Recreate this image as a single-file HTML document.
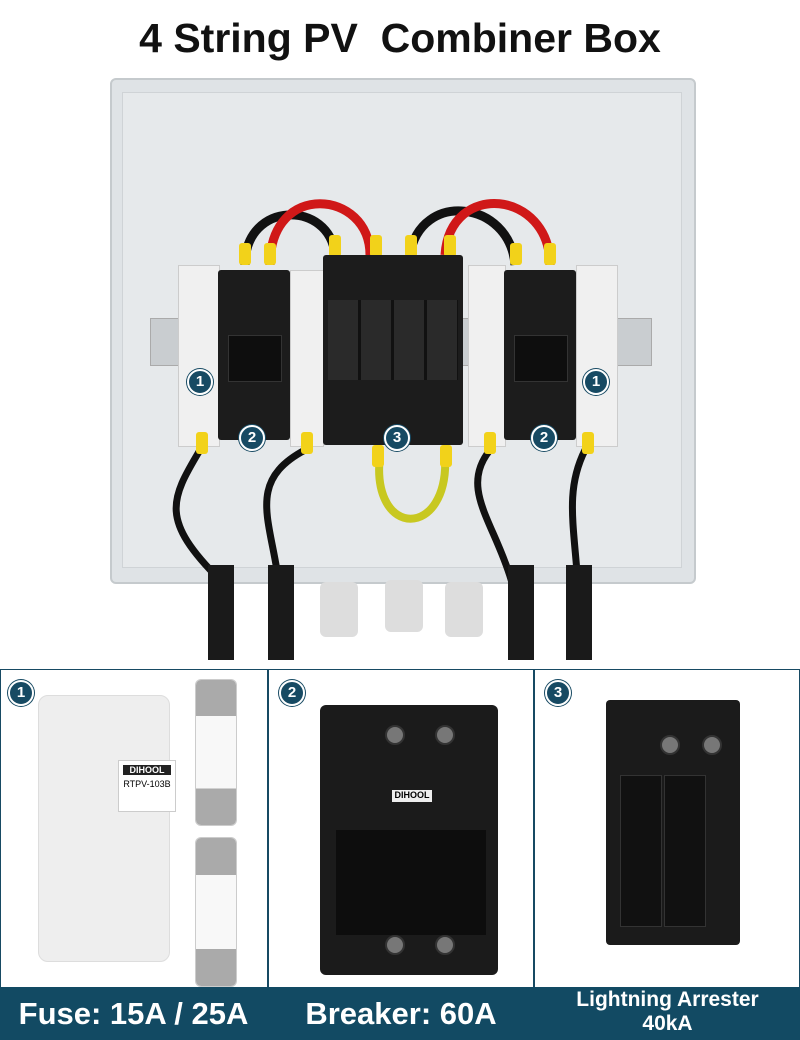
<!DOCTYPE html><html><head><meta charset="utf-8"><style>
body{margin:0;width:800px;height:1040px;background:#fff;position:relative;overflow:hidden;font-family:"Liberation Sans",sans-serif}
.a{position:absolute}
.t{font-weight:bold;color:#fff;text-align:center;font-size:31px}
.n{position:absolute;width:22px;height:22px;border-radius:50%;background:#174a63;border:2px solid #fff;box-shadow:0 0 0 1px #174a63;color:#fff;font-weight:bold;font-size:15px;text-align:center;line-height:22px}
.blk{position:absolute;background:#1c1c1c;border-radius:3px}
.wh{position:absolute;background:#f0f0f0;border:1px solid #ccc}
.screw{position:absolute;width:16px;height:16px;border-radius:50%;background:#777;border:2px solid #333}
.y{position:absolute;width:12px;height:22px;background:#f2d21a;border-radius:3px}
</style></head><body>
<div class="a" style="left:0;top:14px;width:800px;text-align:center;font-weight:bold;font-size:41px;line-height:48px;color:#111">4 String PV&nbsp; Combiner Box</div>
<div class="a" style="left:110px;top:78px;width:582px;height:502px;background:#dfe3e6;border:2px solid #c5cacd;border-radius:6px"></div>
<div class="a" style="left:122px;top:92px;width:558px;height:474px;background:#e6e9eb;border:1px solid #cfd3d6"></div>
<div class="a" style="left:150px;top:318px;width:500px;height:46px;background:#c9cdd0;border:1px solid #aaa"></div>
<svg class="a" style="left:0;top:0" width="800" height="670">
<path d="M245 265 C245 200 330 200 335 255" stroke="#111" stroke-width="9" fill="none"/>
<path d="M270 265 C270 180 370 190 370 255" stroke="#d01818" stroke-width="9" fill="none"/>
<path d="M410 255 C420 190 510 200 515 265" stroke="#111" stroke-width="9" fill="none"/>
<path d="M445 255 C450 180 550 190 550 265" stroke="#d01818" stroke-width="9" fill="none"/>
<path d="M380 455 C370 540 450 540 445 455" stroke="#c8c820" stroke-width="8" fill="none"/>
<path d="M200 450 C170 500 160 520 220 580 L220 640" stroke="#111" stroke-width="7" fill="none"/>
<path d="M305 450 C230 490 290 540 280 640" stroke="#111" stroke-width="7" fill="none"/>
<path d="M490 450 C450 500 520 540 520 640" stroke="#111" stroke-width="7" fill="none"/>
<path d="M585 450 C560 500 580 540 580 640" stroke="#111" stroke-width="7" fill="none"/>
</svg>
<div class="y" style="left:239px;top:243px"></div><div class="y" style="left:264px;top:243px"></div>
<div class="y" style="left:329px;top:235px"></div><div class="y" style="left:370px;top:235px"></div>
<div class="y" style="left:405px;top:235px"></div><div class="y" style="left:444px;top:235px"></div>
<div class="y" style="left:510px;top:243px"></div><div class="y" style="left:544px;top:243px"></div>
<div class="wh" style="left:178px;top:265px;width:40px;height:180px"></div>
<div class="blk" style="left:218px;top:270px;width:72px;height:170px"></div>
<div class="a" style="left:228px;top:335px;width:52px;height:45px;background:#0e0e0e;border:1px solid #333"></div>
<div class="wh" style="left:290px;top:270px;width:32px;height:175px"></div>
<div class="blk" style="left:323px;top:255px;width:140px;height:190px"></div>
<div class="a" style="left:328px;top:300px;width:130px;height:80px;background:repeating-linear-gradient(90deg,#2a2a2a 0 30px,#111 30px 33px)"></div>
<div class="wh" style="left:468px;top:265px;width:36px;height:180px"></div>
<div class="blk" style="left:504px;top:270px;width:72px;height:170px"></div>
<div class="a" style="left:514px;top:335px;width:52px;height:45px;background:#0e0e0e;border:1px solid #333"></div>
<div class="wh" style="left:576px;top:265px;width:40px;height:180px"></div>
<div class="y" style="left:196px;top:432px"></div><div class="y" style="left:301px;top:432px"></div>
<div class="y" style="left:372px;top:445px"></div><div class="y" style="left:440px;top:445px"></div>
<div class="y" style="left:484px;top:432px"></div><div class="y" style="left:582px;top:432px"></div>
<div class="n" style="left:187px;top:369px">1</div>
<div class="n" style="left:239px;top:425px">2</div>
<div class="n" style="left:384px;top:425px">3</div>
<div class="n" style="left:531px;top:425px">2</div>
<div class="n" style="left:583px;top:369px">1</div>
<div class="a" style="left:320px;top:582px;width:38px;height:55px;background:#ddd;border-radius:6px"></div>
<div class="a" style="left:385px;top:580px;width:38px;height:52px;background:#ddd;border-radius:6px"></div>
<div class="a" style="left:445px;top:582px;width:38px;height:55px;background:#ddd;border-radius:6px"></div>
<div class="a" style="left:208px;top:565px;width:26px;height:95px;background:#1a1a1a"></div>
<div class="a" style="left:268px;top:565px;width:26px;height:95px;background:#1a1a1a"></div>
<div class="a" style="left:508px;top:565px;width:26px;height:95px;background:#1a1a1a"></div>
<div class="a" style="left:566px;top:565px;width:26px;height:95px;background:#1a1a1a"></div>
<div class="a" style="left:0;top:669px;width:798px;height:369px;border:1px solid #174a63"></div>
<div class="a" style="left:267px;top:669px;width:2px;height:371px;background:#174a63"></div>
<div class="a" style="left:533px;top:669px;width:2px;height:371px;background:#174a63"></div>
<div class="n" style="left:8px;top:680px">1</div>
<div class="n" style="left:279px;top:680px">2</div>
<div class="n" style="left:545px;top:680px">3</div>
<div class="a" style="left:38px;top:695px;width:130px;height:265px;background:#eeeeee;border-radius:10px;border:1px solid #ddd"></div>
<div class="a" style="left:118px;top:760px;width:56px;height:50px;background:#fff;border:1px solid #ccc;font-size:9px;text-align:center"><div style="background:#222;color:#fff;font-weight:bold;margin:4px">DIHOOL</div>RTPV-103B</div>
<div class="a" style="left:196px;top:680px;width:40px;height:145px;background:linear-gradient(#aaa 0 25%,#f8f8f8 25% 75%,#aaa 75%);border-radius:5px;box-shadow:0 0 0 1px #ccc"></div>
<div class="a" style="left:196px;top:838px;width:40px;height:148px;background:linear-gradient(#aaa 0 25%,#f8f8f8 25% 75%,#aaa 75%);border-radius:5px;box-shadow:0 0 0 1px #ccc"></div>
<div class="a" style="left:320px;top:705px;width:178px;height:270px;background:#1b1b1b;border-radius:6px"></div>
<div class="a" style="left:336px;top:830px;width:150px;height:105px;background:#0d0d0d"></div>
<div class="screw" style="left:385px;top:725px"></div><div class="screw" style="left:435px;top:725px"></div>
<div class="screw" style="left:385px;top:935px"></div><div class="screw" style="left:435px;top:935px"></div>
<div class="a" style="left:392px;top:790px;width:40px;height:12px;background:#eee;font-size:9px;font-weight:bold;text-align:center">DIHOOL</div>
<div class="a" style="left:606px;top:700px;width:134px;height:245px;background:#1b1b1b;border-radius:4px"></div>
<div class="a" style="left:620px;top:775px;width:40px;height:150px;background:#111;border:1px solid #333"></div>
<div class="a" style="left:664px;top:775px;width:40px;height:150px;background:#111;border:1px solid #333"></div>
<div class="screw" style="left:660px;top:735px"></div><div class="screw" style="left:702px;top:735px"></div>
<div class="a" style="left:0;top:987px;width:800px;height:53px;background:#124a63"></div>
<div class="a t" style="left:0;top:996px;width:267px">Fuse: 15A / 25A</div>
<div class="a t" style="left:269px;top:996px;width:264px">Breaker: 60A</div>
<div class="a t" style="left:535px;top:988px;width:265px;font-size:21px;line-height:24px">Lightning Arrester<br>40kA</div>
</body></html>
